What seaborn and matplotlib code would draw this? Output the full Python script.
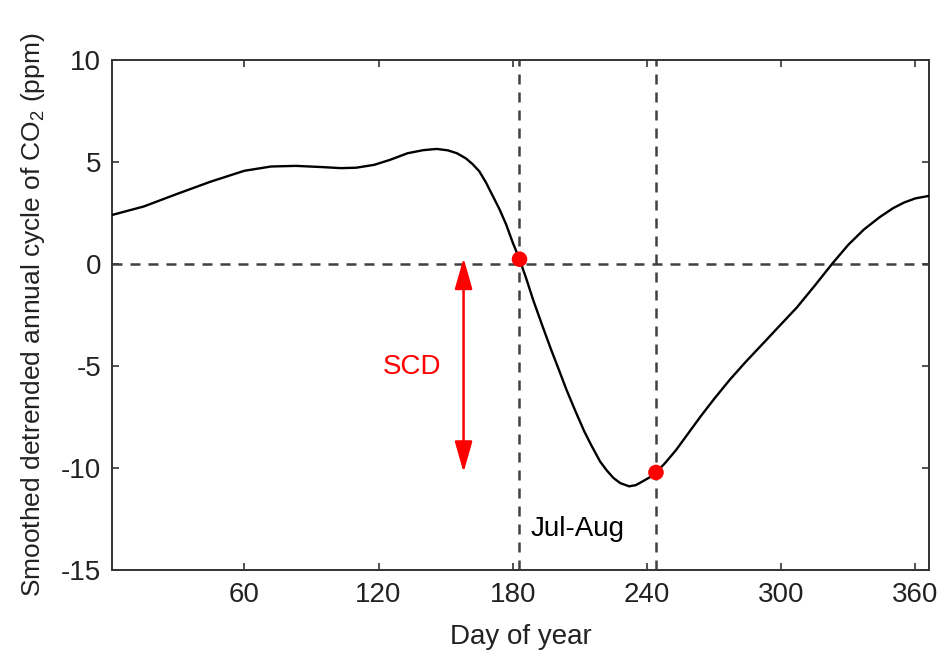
import matplotlib
matplotlib.use("Agg")
import matplotlib.pyplot as plt
import seaborn as sns
import pandas as pd

# ---- data ----
days = [1, 15, 30, 45, 60, 72, 83, 95, 103, 110, 118, 125, 133, 140, 146, 151,
        155, 159, 162, 165, 168, 171, 174, 177, 180, 183, 186, 189, 193, 197,
        200, 204, 208, 212, 215, 219, 222, 225, 228, 232, 235, 238, 241, 244,
        248, 253, 258, 264, 270, 277, 284, 292, 299, 307, 315, 323, 330, 337,
        344, 350, 355, 360, 366]
co2 = [2.41, 2.82, 3.44, 4.04, 4.57, 4.78, 4.81, 4.75, 4.70, 4.72, 4.86, 5.10,
       5.43, 5.58, 5.64, 5.57, 5.43, 5.18, 4.90, 4.55, 4.00, 3.35, 2.70, 1.95,
       1.05, 0.24, -0.70, -1.72, -2.95, -4.15, -5.00, -6.15, -7.20, -8.20,
       -8.85, -9.66, -10.10, -10.47, -10.72, -10.88, -10.82, -10.64, -10.45,
       -10.20, -9.75, -9.10, -8.35, -7.45, -6.60, -5.66, -4.80, -3.87, -3.05,
       -2.12, -1.05, 0.05, 0.95, 1.70, 2.30, 2.74, 3.02, 3.22, 3.34]

marker_days = [183, 244]
marker_vals = [0.24, -10.20]
period_bounds = [183, 244]
scd_day = 158
scd_top, scd_bottom = 0.30, -10.20

xticks = [60, 120, 180, 240, 300, 360]
yticks = [-15, -10, -5, 0, 5, 10]

curve = pd.DataFrame({"day": days, "co2": co2})
marks = pd.DataFrame({"day": marker_days, "co2": marker_vals})

# ---- style ----
sns.set_theme(style="white")
plt.rcParams["font.family"] = ["Liberation Sans", "DejaVu Sans"]
plt.rcParams["axes.unicode_minus"] = False
plt.rcParams["mathtext.default"] = "regular"

axis_col = "#333333"
dash_col = "#404040"
dash = (0, (4.0, 3.2))

fig = plt.figure(figsize=(9.44, 6.58), dpi=100)
ax = fig.add_axes([0.119, 0.133, 0.865, 0.776])

# reference dashed lines
ax.axhline(0, color=dash_col, lw=1.8, ls=dash, zorder=1)
for d in period_bounds:
    ax.axvline(d, color=dash_col, lw=1.8, ls=dash, zorder=1)

sns.lineplot(data=curve, x="day", y="co2", color="black", lw=1.7, ax=ax,
             zorder=3)
sns.scatterplot(data=marks, x="day", y="co2", color="red", s=125,
                edgecolor="none", ax=ax, zorder=4)

ax.annotate("", xy=(scd_day, scd_bottom), xytext=(scd_day, scd_top),
            arrowprops=dict(arrowstyle="<|-|>,head_length=0.95,head_width=0.27",
                            color="red", lw=1.8, mutation_scale=20,
                            shrinkA=0, shrinkB=0), zorder=5)
ax.text(135, -5.38, "SCD", color="red", fontsize=20, ha="center",
        va="baseline")
ax.text(188, -13.33, "Jul-Aug", color="black", fontsize=20, ha="left",
        va="baseline")

ax.set_xlim(1, 366)
ax.set_ylim(-15, 10)
ax.set_xticks(xticks)
ax.set_yticks(yticks)
ax.set_xticklabels([str(t) for t in xticks])
ax.set_yticklabels([str(t) for t in yticks])

ax.set_xlabel("Day of year", fontsize=20, color="#222222", labelpad=12)
ax.set_ylabel(r"Smoothed detrended annual cycle of CO$_\mathregular{2}$ (ppm)",
              fontsize=19, color="#222222", labelpad=10)

for s in ax.spines.values():
    s.set_visible(True)
    s.set_color(axis_col)
    s.set_linewidth(1.4)

ax.tick_params(axis="both", which="major", direction="in", length=5,
               width=1.2, color=axis_col, labelsize=20, labelcolor="#222222",
               top=True, right=True, bottom=True, left=True, pad=8)

fig.savefig("out.png", dpi=100)
